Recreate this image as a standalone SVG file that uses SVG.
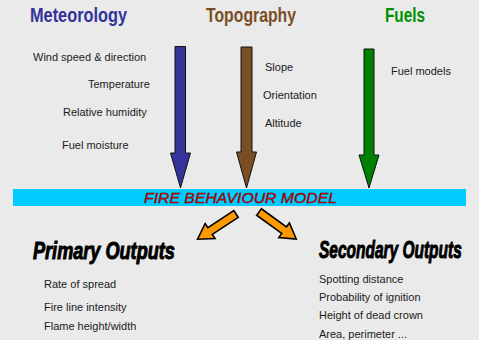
<svg xmlns="http://www.w3.org/2000/svg" width="479" height="340" viewBox="0 0 479 340">
<style>
.hdr{font-family:"Liberation Sans",Arial,sans-serif;font-weight:bold;font-size:20px}
.txt{font-family:"Liberation Sans",Arial,sans-serif;font-size:11px;fill:#1a1a1a}
.out{font-family:"Liberation Sans",Arial,sans-serif;font-weight:bold;font-style:italic;font-size:24px;fill:#000;stroke:#000;stroke-width:1}
.arr{stroke:#111;stroke-width:1}
.oarr{fill:#ff9900;stroke:#000;stroke-width:1.6;stroke-linejoin:miter}
</style>
<defs>
<path id="oa" d="M0,-4 L31,-4 L31,-9 L46,0 L31,9 L31,4 L0,4 Z"/>
</defs>
<rect width="479" height="340" fill="#eaeaea"/>
<g id="meteorology">
<text class="hdr" x="30" y="22" fill="#333399" textLength="97" lengthAdjust="spacingAndGlyphs">Meteorology</text>
<text class="txt" x="33" y="61">Wind speed &amp; direction</text>
<text class="txt" x="88" y="88">Temperature</text>
<text class="txt" x="63" y="116">Relative humidity</text>
<text class="txt" x="62" y="149">Fuel moisture</text>
</g>
<g id="topography">
<text class="hdr" x="206" y="22" fill="#7a4f26" textLength="90" lengthAdjust="spacingAndGlyphs">Topography</text>
<text class="txt" x="265" y="71">Slope</text>
<text class="txt" x="263" y="99">Orientation</text>
<text class="txt" x="265" y="127">Altitude</text>
</g>
<g id="fuels">
<text class="hdr" x="385" y="22" fill="#009000" textLength="40" lengthAdjust="spacingAndGlyphs">Fuels</text>
<text class="txt" x="391" y="75">Fuel models</text>
</g>
<g id="model">
<rect x="13" y="189" width="453" height="17" fill="#00ccff"/>
<text x="144" y="202.5" font-family="'Liberation Sans',Arial,sans-serif" font-style="italic" font-size="14" fill="#dd0000" stroke="#550000" stroke-width="0.35" textLength="193" lengthAdjust="spacingAndGlyphs">FIRE BEHAVIOUR MODEL</text>
</g>
<g id="primary-outputs">
<text class="out" transform="translate(33,259) scale(0.755,1)">Primary Outputs</text>
<text class="txt" x="44" y="288">Rate of spread</text>
<text class="txt" x="44" y="311">Fire line intensity</text>
<text class="txt" x="44" y="330">Flame height/width</text>
</g>
<g id="secondary-outputs">
<text class="out" transform="translate(319,258) scale(0.645,1)">Secondary Outputs</text>
<text class="txt" x="319" y="283">Spotting distance</text>
<text class="txt" x="319" y="301">Probability of ignition</text>
<text class="txt" x="319" y="319">Height of dead crown</text>
<text class="txt" x="319" y="338">Area, perimeter ...</text>
</g>
<g id="connectors">
<polygon class="arr" fill="#333399" points="175,46.5 185.5,46.5 185.5,153 190.5,153 180.5,188 170.5,153 175,153"/>
<polygon class="arr" fill="#7a4f26" points="241,47 252,47 252,152 256.5,152 246.5,188 236.5,152 241,152"/>
<polygon class="arr" fill="#008000" points="364,49 374,49 374,155 379,155 369,188 359,155 364,155"/>
<use href="#oa" class="oarr" transform="translate(236,214) rotate(146.7)"/>
<use href="#oa" class="oarr" transform="translate(259,212) rotate(36)"/>
</g>
</svg>
